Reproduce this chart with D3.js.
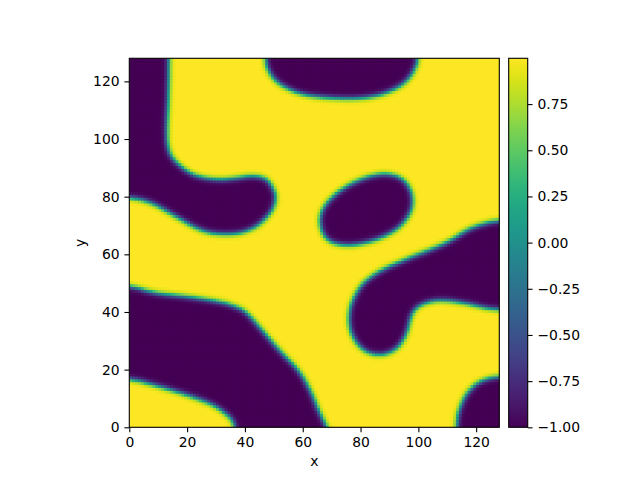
<!DOCTYPE html>
<html lang="en">
<head>
    <meta charset="UTF-8">
    <title>Phase field</title>
    <script src="https://cdn.jsdelivr.net/npm/d3@7"></script>
    <style>
        body { margin: 0; background: #fff; }
        text { font-family: "DejaVu Sans", sans-serif; }
    </style>
</head>
<body>
    <svg id="svg"></svg>

    <script>
        var WIDTH = 640;
        var HEIGHT = 480;
        var GRID = 128;

        // plot box (pixels)
        var LEFT = 129.3, RIGHT = 499.3, TOP = 58.3, BOTTOM = 427.3;
        var CB_LEFT = 508.7, CB_RIGHT = 527.7;

        var FONT = 13.9;
        var TICK = 4.86;

        var valueRange = [-1.0, 0.998];
        var axisTicks = [0, 20, 40, 60, 80, 100, 120];
        var cbTicks = [-1.0, -0.75, -0.5, -0.25, 0.0, 0.25, 0.5, 0.75];
        var interfaceWidth = 1.0;   // cells

        // dark (value -1) domains, in data coords
        var regionTopLeft = [[-10,150],[13.8,150],[13.7,128],[13.5,115],[12.8,102],[13.5,96],[15.9,92.4],
            [21,88.3],[26,86.8],[31.5,86.2],[37,86.8],[43,87.7],[47.8,86.5],[50.4,82],[50.6,79],[49.2,75],
            [44.6,70.3],[40,68.2],[36.1,67.4],[31,67.4],[26.9,68],[22,70],[17.6,72.6],[12,75.9],
            [8.4,77.9],[4,79.4],[0,80],[-10,80.5]];
        var regionTop = [[47,150],[47,128],[48,124],[51,120],[56.8,116.8],[62,115.4],[68,114.7],
            [76.5,114.3],[83,114.8],[88,116],[92.5,118],[96,120.5],[98.5,124],[100,128],[100.5,150]];
        var regionEllipse = [[89.3,88.6],[95.3,86.3],[98.2,80.8],[97.6,74.8],[92.9,69],[84.6,64.9],
            [75.2,63.1],[68.1,65],[65.4,71.6],[67.5,77.7],[74,83.5],[81.7,87.2]];
        var regionRight = [[150,72],[128,72.2],[122.6,71],[117,69],[111,65],[105.3,62.4],[99,60],
            [93.8,57.8],[88.5,55.5],[84.5,53.2],[81,50.5],[78.8,47.4],[76.6,43],[75.9,38.2],[76.3,34.5],
            [77.6,31.2],[79.5,28.5],[82.2,26.4],[85.5,25.5],[89.1,25.8],[92.7,27.8],[95.1,31.2],[96.4,34.5],
            [97.2,38.2],[98.5,41],[100.7,42.8],[104,44],[107.6,44.5],[113,44],[119.1,42.8],[123,41.8],
            [128,41.1],[150,41]];
        var regionBottomRight = [[113,-20],[113.2,0],[113.6,5],[115.7,10.5],[118,13.5],[120.3,15.7],
            [124,17.3],[128,18],[150,18.2],[150,-20]];
        var regionBottom = [[-20,50],[0,49.7],[8.4,46.8],[20,45.7],[31.5,43.9],[36,42.5],[39.5,41],
            [42.5,38],[45.3,34.7],[52.2,26.6],[59,19.7],[62.8,12.8],[65.5,6],[67.5,2],[68.5,0],[69,-20],
            [36.7,-20],[36.7,0],[35.5,3],[33.8,4.7],[29.2,8.2],[20,11.6],[8.4,15.1],[0,17.4],[-20,17.5]];

        var regions = [regionTopLeft, regionTop, regionEllipse, regionRight, regionBottomRight, regionBottom];

        // round off the corners of a traced outline (Chaikin corner cutting)
        function smooth(poly, n) {
            var p = poly;
            for (var r = 0; r < n; r++) {
                var q = [];
                for (var k = 0; k < p.length; k++) {
                    var a = p[k], b = p[(k+1) % p.length];
                    q.push([0.75*a[0] + 0.25*b[0], 0.75*a[1] + 0.25*b[1]]);
                    q.push([0.25*a[0] + 0.75*b[0], 0.25*a[1] + 0.75*b[1]]);
                }
                p = q;
            }
            return p;
        }
        var outlines = regions.map(function(p){ return smooth(p, 3); });

        function segDist(px, py, a, b) {
            var dx = b[0]-a[0], dy = b[1]-a[1];
            var t = ((px-a[0])*dx + (py-a[1])*dy) / (dx*dx + dy*dy);
            t = Math.max(0, Math.min(1, t));
            var ex = a[0] + t*dx - px, ey = a[1] + t*dy - py;
            return Math.sqrt(ex*ex + ey*ey);
        }

        // build cells: value from signed distance to the traced interfaces
        var cells = [];
        for (var j = 0; j < GRID; j++) {
            for (var i = 0; i < GRID; i++) {
                var cx = i + 0.5, cy = j + 0.5;
                var d = Infinity, inside = false;
                outlines.forEach(function(poly){
                    if (d3.polygonContains(poly, [cx, cy])) inside = true;
                    for (var k = 0; k < poly.length; k++) {
                        var dd = segDist(cx, cy, poly[k], poly[(k+1) % poly.length]);
                        if (dd < d) d = dd;
                    }
                });
                var v = Math.tanh(d / interfaceWidth) * (inside ? -1 : 1);
                v = Math.max(valueRange[0], Math.min(valueRange[1], v));
                cells.push({'i': i, 'j': j, 'value': v});
            }
        }

        var svg = d3.select("#svg")
                    .attr("width", WIDTH)
                    .attr("height", HEIGHT);

        var xScale = d3.scaleLinear().domain([0, GRID]).range([LEFT, RIGHT]);
        var yScale = d3.scaleLinear().domain([0, GRID]).range([BOTTOM, TOP]);
        var color = d3.scaleSequential(d3.interpolateViridis).domain(valueRange);

        svg.append("clipPath")
           .attr("id", "plotArea")
           .append("rect")
           .attr("x", LEFT).attr("y", TOP)
           .attr("width", RIGHT - LEFT).attr("height", BOTTOM - TOP);

        svg.append("g")
           .attr("clip-path", "url(#plotArea)")
           .selectAll("rect")
           .data(cells)
           .enter()
           .append("rect")
           .attr("x", function(d){ return xScale(d.i); })
           .attr("y", function(d){ return yScale(d.j + 1); })
           .attr("width", xScale(1) - xScale(0) + 1)
           .attr("height", yScale(0) - yScale(1) + 1)
           .attr("fill", function(d){ return color(d.value); });

        // axes
        var xAxis = d3.axisBottom(xScale).tickValues(axisTicks).tickSize(TICK).tickPadding(TICK);
        var yAxis = d3.axisLeft(yScale).tickValues(axisTicks).tickSize(TICK).tickPadding(TICK);

        var gx = svg.append("g")
           .attr("transform", "translate(0," + BOTTOM + ")")
           .call(xAxis);
        var gy = svg.append("g")
           .attr("transform", "translate(" + LEFT + ",0)")
           .call(yAxis);

        [gx, gy].forEach(function(g){
            g.select(".domain").remove();
            g.selectAll("line").attr("stroke", "#000").attr("stroke-width", 1.1);
            g.selectAll("text").attr("fill", "#000").style("font-size", FONT + "px")
             .style("font-family", "'DejaVu Sans', sans-serif");
        });

        svg.append("rect")
           .attr("x", LEFT).attr("y", TOP)
           .attr("width", RIGHT - LEFT).attr("height", BOTTOM - TOP)
           .attr("fill", "none").attr("stroke", "#000").attr("stroke-width", 1.1);

        svg.append("text")
           .attr("x", (LEFT + RIGHT) / 2).attr("y", 466)
           .attr("text-anchor", "middle")
           .style("font-size", FONT + "px")
           .text("x");

        svg.append("text")
           .attr("transform", "translate(85," + ((TOP + BOTTOM) / 2) + ") rotate(-90)")
           .attr("text-anchor", "middle")
           .style("font-size", FONT + "px")
           .text("y");

        // colorbar
        var cbScale = d3.scaleLinear().domain(valueRange).range([BOTTOM, TOP]);
        var grad = svg.append("defs").append("linearGradient")
           .attr("id", "cbGrad")
           .attr("x1", 0).attr("y1", 1).attr("x2", 0).attr("y2", 0);
        grad.selectAll("stop")
           .data(d3.range(0, 1.0001, 0.02))
           .enter()
           .append("stop")
           .attr("offset", function(t){ return t; })
           .attr("stop-color", function(t){ return d3.interpolateViridis(t); });

        svg.append("rect")
           .attr("x", CB_LEFT).attr("y", TOP)
           .attr("width", CB_RIGHT - CB_LEFT).attr("height", BOTTOM - TOP)
           .attr("fill", "url(#cbGrad)")
           .attr("stroke", "#000").attr("stroke-width", 1.1);

        var cbAxis = d3.axisRight(cbScale).tickValues(cbTicks).tickSize(TICK).tickPadding(TICK)
                       .tickFormat(d3.format(".2f"));
        var gcb = svg.append("g")
           .attr("transform", "translate(" + CB_RIGHT + ",0)")
           .call(cbAxis);
        gcb.select(".domain").remove();
        gcb.selectAll("line").attr("stroke", "#000").attr("stroke-width", 1.1);
        gcb.selectAll("text").attr("fill", "#000").style("font-size", FONT + "px")
           .style("font-family", "'DejaVu Sans', sans-serif");
    </script>
</body>
</html>
